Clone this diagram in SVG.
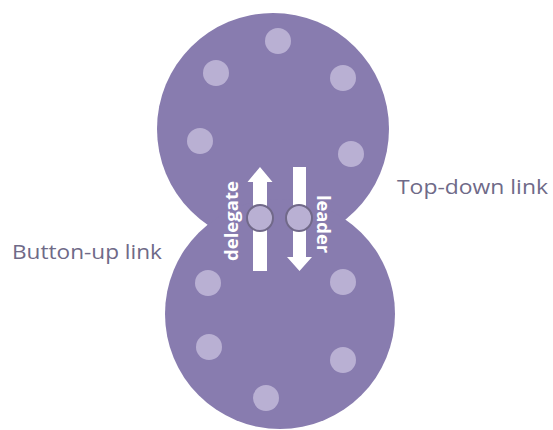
<svg xmlns="http://www.w3.org/2000/svg" width="553" height="430" viewBox="0 0 553 430">
  <style>
    .body { fill: #887caf; }
    .member { fill: #b9b0d3; }
    .link-node { fill: #b9b0d3; stroke: #716989; stroke-width: 2; }
    .arrow { fill: #ffffff; }
    .role { font-family: "Open Sans", "DejaVu Sans", sans-serif; font-weight: bold; font-size: 17px; fill: #ffffff; }
    .label { font-family: "Open Sans", "Liberation Sans", sans-serif; font-size: 20px; fill: #6f6a88; }
  </style>
  <rect width="553" height="430" fill="#ffffff"/>

  <!-- upper group -->
  <g id="upper-group">
    <circle class="body" cx="273" cy="129" r="116"/>
    <circle class="member" cx="278" cy="41" r="13"/>
    <circle class="member" cx="216" cy="73" r="13"/>
    <circle class="member" cx="343" cy="78" r="13"/>
    <circle class="member" cx="200" cy="141" r="13"/>
    <circle class="member" cx="351" cy="154" r="13"/>
  </g>

  <!-- lower group -->
  <g id="lower-group">
    <circle class="body" cx="280" cy="314" r="115"/>
    <circle class="member" cx="208" cy="283" r="13"/>
    <circle class="member" cx="343" cy="282" r="13"/>
    <circle class="member" cx="209" cy="347" r="13"/>
    <circle class="member" cx="343" cy="360" r="13"/>
    <circle class="member" cx="266" cy="398" r="13"/>
  </g>

  <!-- links between the groups -->
  <g id="connectors">
    <polygon class="arrow" points="253,271 267,271 267,182 272.5,182 260,167 247.5,182 253,182"/>
    <polygon class="arrow" points="293,167 306,167 306,257 312,257 299.5,271 287,257 293,257"/>
  </g>

  <g id="delegate">
    <circle class="link-node" cx="260" cy="218" r="13"/>
    <text class="role" transform="translate(238,221) rotate(-90)" text-anchor="middle" textLength="80" lengthAdjust="spacingAndGlyphs">delegate</text>
  </g>

  <g id="leader">
    <circle class="link-node" cx="299" cy="218" r="13"/>
    <text class="role" transform="translate(317,224) rotate(90)" text-anchor="middle" textLength="58" lengthAdjust="spacingAndGlyphs">leader</text>
  </g>

  <g id="top-down-label">
    <text class="label" x="397" y="194" textLength="151" lengthAdjust="spacingAndGlyphs">Top-down link</text>
  </g>
  <g id="button-up-label">
    <text class="label" x="12" y="259" textLength="150" lengthAdjust="spacingAndGlyphs">Button-up link</text>
  </g>
</svg>
